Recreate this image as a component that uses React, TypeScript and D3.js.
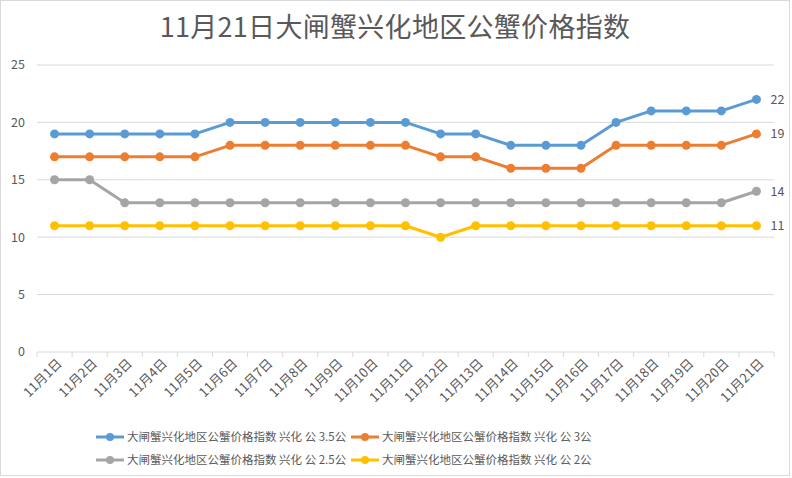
import React from "react";
import * as d3 from "d3";

const categories = ["11月1日","11月2日","11月3日","11月4日","11月5日","11月6日","11月7日","11月8日","11月9日","11月10日","11月11日","11月12日","11月13日","11月14日","11月15日","11月16日","11月17日","11月18日","11月19日","11月20日","11月21日"];
const s35 = [19,19,19,19,19,20,20,20,20,20,20,19,19,18,18,18,20,21,21,21,22];
const s3 = [17,17,17,17,17,18,18,18,18,18,18,17,17,16,16,16,18,18,18,18,19];
const s25 = [15,15,13,13,13,13,13,13,13,13,13,13,13,13,13,13,13,13,13,13,14];
const s2 = [11,11,11,11,11,11,11,11,11,11,11,10,11,11,11,11,11,11,11,11,11];
const seriesNames = ["大闸蟹兴化地区公蟹价格指数 兴化 公 3.5公","大闸蟹兴化地区公蟹价格指数 兴化 公 3公","大闸蟹兴化地区公蟹价格指数 兴化 公 2.5公","大闸蟹兴化地区公蟹价格指数 兴化 公 2公"];
const yTicks = [0,5,10,15,20,25];
const title = "11月21日大闸蟹兴化地区公蟹价格指数";

const colors = ["#5B9BD5","#ED7D31","#A5A5A5","#FFC000"];
const FONT = "'Noto Sans CJK SC', 'Noto Sans', sans-serif";
const TXT = "#595959";

export default function App() {
  const W = 792, H = 478;
  const left = 37, right = 774, top = 65, bottom = 352;
  const x = d3.scaleBand().domain(categories).range([left, right]);
  const y = d3.scaleLinear().domain([0, 25]).range([bottom, top]);
  const cx = (c: string) => (x(c) as number) + x.bandwidth() / 2;
  const all = [s35, s3, s25, s2];
  const line = d3.line<number>().x((_, i) => cx(categories[i])).y(d => y(d));
  const legendPos = [[96, 437], [351, 437], [96, 460], [351, 460]];
  return (
    <svg width={W} height={H} style={{ position: "absolute", left: 0, top: 0, background: "#fff" }} fontFamily={FONT}>
      <rect x={0.5} y={0.5} width={W - 3} height={H - 3} fill="#fff" stroke="#D9D9D9" />
      <text x={W / 2 - 1} y={37} textAnchor="middle" fontSize={27} fill={TXT} letterSpacing={0.3}>{title}</text>
      {yTicks.map(t => (
        <g key={t}>
          {t > 0 && <line x1={left} x2={right} y1={y(t)} y2={y(t)} stroke="#D9D9D9" strokeWidth={1} />}
          <text x={25} y={y(t)} dy="0.35em" textAnchor="end" fontSize={12.5} fill={TXT}>{t}</text>
        </g>
      ))}
      <line x1={left} x2={right} y1={bottom} y2={bottom} stroke="#D9D9D9" />
      {d3.range(categories.length + 1).map(i => {
        const xx = left + i * x.step();
        return <line key={i} x1={xx} x2={xx} y1={bottom} y2={bottom + 5} stroke="#D9D9D9" />;
      })}
      {categories.map(c => (
        <text key={c} transform={`translate(${cx(c) + 5},${bottom + 9}) rotate(-45)`} textAnchor="end" dy="0.35em" fontSize={13} fill={TXT}>{c}</text>
      ))}
      {all.map((s, k) => (
        <g key={k}>
          <path d={line(s) as string} fill="none" stroke={colors[k]} strokeWidth={3} strokeLinejoin="round" strokeLinecap="round" />
          {s.map((v, i) => <circle key={i} cx={cx(categories[i])} cy={y(v)} r={4.5} fill={colors[k]} />)}
          <text x={cx(categories[s.length - 1]) + 14} y={y(s[s.length - 1])} dy="0.35em" fontSize={12.5} fill={TXT}>{s[s.length - 1]}</text>
        </g>
      ))}
      {seriesNames.map((n, k) => (
        <g key={n} transform={`translate(${legendPos[k][0]},${legendPos[k][1]})`}>
          <line x1={0} x2={28} y1={0} y2={0} stroke={colors[k]} strokeWidth={3} />
          <circle cx={14} cy={0} r={4} fill={colors[k]} />
          <text x={31} y={0} dy="0.35em" fontSize={11.5} fill={TXT}>{n}</text>
        </g>
      ))}
    </svg>
  );
}
